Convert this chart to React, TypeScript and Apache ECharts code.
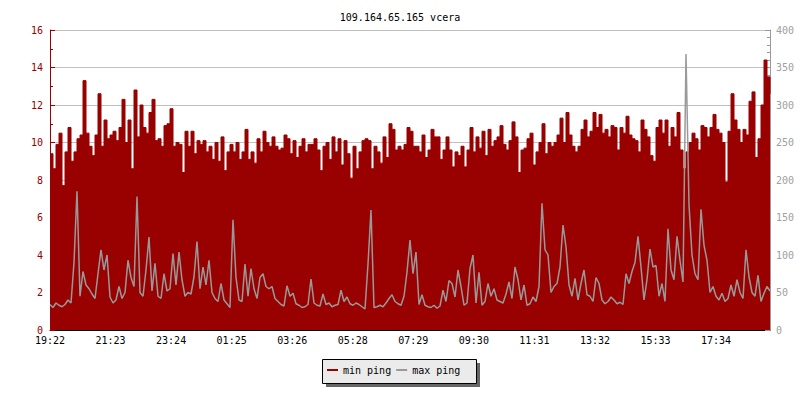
import React, { useEffect, useRef } from 'react';
import * as echarts from 'echarts';

const chartTitle = '109.164.65.165 vcera';
const stepMinutes = 6;
const spanMinutes = 1440;
const tickStepMinutes = 121.1;
const tickLabels = ['19:22', '21:23', '23:24', '01:25', '03:26', '05:28', '07:29', '09:30', '11:31', '13:32', '15:33', '17:34'];
const seriesNames = ['min ping', 'max ping'];

// min ping (left axis, ms), one value per 6 minutes
const minPing = [
  9.4, 8.6, 9.9, 10.5, 7.7, 9.5, 10.8, 9.0, 9.5, 10.2,
  10.4, 13.3, 10.5, 9.8, 9.3, 10.4, 12.6, 9.8, 11.2, 10.2,
  10.4, 10.6, 10.1, 10.8, 12.3, 10.0, 11.2, 8.6, 12.8, 10.3,
  12.0, 10.8, 10.5, 11.6, 12.3, 10.1, 10.2, 9.8, 10.9, 11.0,
  11.8, 9.8, 10.0, 9.9, 8.4, 10.6, 9.8, 10.6, 9.4, 10.1,
  9.9, 10.1, 9.5, 9.8, 9.1, 10.0, 9.0, 10.3, 8.5, 9.5,
  9.9, 9.5, 10.0, 9.1, 9.5, 10.7, 9.1, 9.5, 8.9, 10.2,
  9.5, 10.6, 10.0, 9.8, 10.3, 9.8, 9.6, 9.7, 10.4, 10.2,
  9.4, 10.1, 9.2, 9.8, 10.2, 9.5, 9.9, 9.9, 10.2, 9.6,
  8.5, 9.8, 10.0, 9.1, 10.3, 9.5, 10.2, 8.8, 10.1, 9.4,
  8.1, 9.8, 8.6, 9.5, 10.1, 10.2, 10.1, 8.6, 9.8, 9.5,
  8.9, 10.3, 9.2, 11.0, 10.7, 9.6, 9.8, 9.6, 9.9, 10.8,
  10.6, 9.8, 9.8, 9.5, 10.4, 9.2, 9.6, 10.7, 10.3, 10.3,
  9.1, 9.6, 10.3, 9.6, 8.7, 9.5, 9.3, 9.8, 8.7, 9.6,
  10.8, 9.5, 10.3, 9.7, 10.6, 9.3, 10.7, 9.8, 10.1, 10.3,
  10.9, 9.9, 9.6, 10.1, 11.1, 10.3, 8.4, 9.6, 9.7, 10.2,
  10.5, 8.8, 9.5, 10.0, 11.0, 9.4, 10.0, 9.8, 10.0, 10.4,
  11.3, 10.0, 11.6, 10.4, 9.8, 9.5, 9.8, 10.7, 11.2, 10.3,
  10.6, 11.6, 10.8, 11.5, 10.5, 10.7, 10.3, 10.9, 10.8, 9.6,
  10.8, 10.5, 11.4, 10.4, 10.2, 10.1, 9.5, 11.2, 10.7, 10.3,
  9.3, 9.0, 10.8, 11.2, 10.5, 11.2, 9.8, 10.8, 10.3, 11.6,
  9.6, 8.6, 9.5, 10.0, 10.5, 10.2, 9.6, 10.9, 10.8, 10.3,
  10.8, 11.5, 10.7, 10.5, 10.0, 7.9, 10.6, 12.6, 11.2, 10.7,
  10.0, 10.7, 10.4, 12.2, 12.7, 9.2, 10.2, 12.0, 14.4, 13.5,
  12.6,
];

// max ping (right axis, ms), one value per 6 minutes
const maxPing = [
  34, 30, 36, 33, 31, 34, 40, 36, 90, 185,
  45, 78, 60, 55, 48, 42, 75, 107, 80, 100,
  44, 36, 40, 58, 42, 50, 93, 70, 58, 178,
  50, 45, 80, 124, 52, 89, 45, 42, 75, 52,
  55, 102, 60, 104, 67, 45, 50, 48, 71, 118,
  55, 84, 60, 93, 50, 42, 38, 62, 40, 35,
  30, 147, 70, 40, 38, 88, 45, 82, 55, 42,
  70, 75, 58, 55, 58, 42, 38, 34, 32, 59,
  45, 49, 35, 33, 30, 31, 34, 68, 36, 33,
  32, 48, 34, 36, 31, 33, 34, 53, 38, 44,
  35, 33, 36, 34, 31, 28, 88, 160, 30, 31,
  33, 31, 36, 42, 47, 38, 35, 33, 45, 77,
  120, 75, 104, 34, 47, 33, 31, 30, 33, 29,
  32, 53, 38, 66, 62, 44, 80, 58, 33, 36,
  82, 100, 36, 77, 33, 38, 62, 45, 55, 40,
  38, 36, 48, 64, 42, 84, 67, 40, 60, 33,
  35, 44, 38, 58, 169, 107, 100, 50, 58, 62,
  84, 140, 111, 60, 45, 69, 40, 62, 80, 47,
  45, 38, 70, 62, 40, 35, 38, 44, 40, 35,
  37, 34, 75, 62, 78, 90, 125, 84, 40, 67,
  108, 84, 86, 45, 62, 38, 135, 80, 67, 125,
  93, 64, 368, 167, 100, 75, 67, 161, 113, 93,
  50, 58, 45, 40, 49, 38, 42, 60, 45, 67,
  50, 42, 107, 71, 50, 45, 73, 38, 49, 58,
  52,
];

const MONO = 'DejaVu Sans Mono';
const RED = '#990000';
const GRAY = '#999999';

export default function App() {
  const ref = useRef<HTMLDivElement>(null);

  useEffect(() => {
    if (!ref.current) return;
    const chart = echarts.init(ref.current, null, { renderer: 'svg' });
    const minData = minPing.map((v, i) => [i * stepMinutes, v]);
    const maxData = maxPing.map((v, i) => [i * stepMinutes, v]);

    chart.setOption({
      animation: false,
      backgroundColor: '#ffffff',
      color: [RED, GRAY],
      title: {
        text: chartTitle,
        left: 'center',
        top: 7,
        textStyle: { fontFamily: MONO, fontSize: 10, fontWeight: 'normal', color: '#000' },
      },
      grid: { left: 50, right: 30, top: 30, bottom: 70, containLabel: false },
      graphic: [
        { type: 'rect', shape: { x: 326, y: 363, width: 154, height: 24 }, style: { fill: '#666666' }, z: 0 },
        { type: 'rect', shape: { x: 322.5, y: 359.5, width: 154, height: 24 }, style: { fill: '#ebebeb', stroke: '#000', lineWidth: 1 }, z: 1 },
      ],
      legend: {
        left: 322,
        top: 359,
        padding: [6, 19, 6, 5],
        itemWidth: 11,
        itemHeight: 2,
        itemGap: 5,
        icon: 'rect',
        data: seriesNames,
        textStyle: { fontFamily: MONO, fontSize: 10, color: '#000' },
        z: 10,
      },
      xAxis: {
        type: 'value',
        min: 0,
        max: spanMinutes,
        interval: tickStepMinutes,
        axisLine: { show: true, lineStyle: { color: '#000', width: 1 } },
        axisTick: { show: true, inside: true, length: 5, lineStyle: { color: '#000' } },
        axisLabel: {
          fontFamily: MONO,
          fontSize: 10,
          color: '#000',
          margin: 5,
          showMaxLabel: false,
          formatter: (v: number) => {
            const k = Math.round(v / tickStepMinutes);
            return Math.abs(v - k * tickStepMinutes) < 0.5 ? tickLabels[k] ?? '' : '';
          },
        },
        splitLine: { show: false },
      },
      yAxis: [
        {
          type: 'value',
          position: 'left',
          min: 0,
          max: 16,
          interval: 2,
          axisLine: { show: true, lineStyle: { color: RED, width: 1 } },
          axisTick: { show: true, inside: true, length: 5, lineStyle: { color: RED } },
          minorTick: { show: true, splitNumber: 2, length: 3, lineStyle: { color: RED } },
          axisLabel: { fontFamily: MONO, fontSize: 10, color: RED, margin: 7 },
          splitLine: { show: true, lineStyle: { color: '#c0c0c0', width: 1 } },
        },
        {
          type: 'value',
          position: 'right',
          min: 0,
          max: 400,
          interval: 50,
          axisLine: { show: true, lineStyle: { color: GRAY, width: 1 } },
          axisTick: { show: true, inside: true, length: 5, lineStyle: { color: GRAY } },
          minorTick: { show: true, splitNumber: 5, length: 3, lineStyle: { color: GRAY } },
          axisLabel: { fontFamily: MONO, fontSize: 10, color: '#a0a0a0', margin: 6 },
          splitLine: { show: false },
        },
      ],
      series: [
        {
          name: seriesNames[0],
          type: 'line',
          yAxisIndex: 0,
          step: 'end',
          symbol: 'none',
          data: minData,
          itemStyle: { color: RED },
          lineStyle: { color: RED, width: 1 },
          areaStyle: { color: RED, opacity: 1 },
          z: 2,
        },
        {
          name: seriesNames[1],
          type: 'line',
          yAxisIndex: 1,
          symbol: 'none',
          data: maxData,
          itemStyle: { color: GRAY },
          lineStyle: { color: GRAY, width: 1.5 },
          z: 3,
        },
      ],
    });

    return () => chart.dispose();
  }, []);

  return <div ref={ref} style={{ position: 'fixed', left: 0, top: 0, width: 800, height: 400 }} />;
}
